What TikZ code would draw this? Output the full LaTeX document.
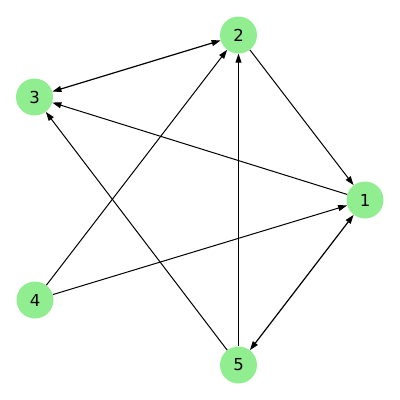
\documentclass[tikz,border=0pt]{standalone}
\usepackage{fontspec}
\setmainfont{DejaVu Sans}
\usetikzlibrary{arrows.meta}
\definecolor{lg}{HTML}{90EE90}
\begin{document}
\begin{tikzpicture}[x=1pt,y=-1pt,
  vtx/.style={circle,fill=lg,minimum size=37pt,inner sep=0pt,font=\fontsize{16.5}{17}\selectfont},
  edge/.style={line width=1pt,-{Stealth[length=9pt,width=6pt,inset=0pt]}},
  biedge/.style={line width=1.2pt,{Stealth[length=9pt,width=6pt,inset=0pt]}-{Stealth[length=9pt,width=6pt,inset=0pt]}}]
\useasboundingbox (0,0) rectangle (400,400);
\node[vtx] (n1) at (365,200) {1};
\node[vtx] (n2) at (238.5,35) {2};
\node[vtx] (n3) at (34.5,97) {3};
\node[vtx] (n4) at (35,300) {4};
\node[vtx] (n5) at (238.5,365) {5};
\draw[edge] (n2) -- (n1);
\draw[edge] (n1) -- (n3);
\draw[edge] (n4) -- (n1);
\draw[edge] (n4) -- (n2);
\draw[edge] (n5) -- (n2);
\draw[edge] (n5) -- (n3);
\draw[biedge] (n1) -- (n5);
\draw[biedge] (n2) -- (n3);
\end{tikzpicture}
\end{document}
